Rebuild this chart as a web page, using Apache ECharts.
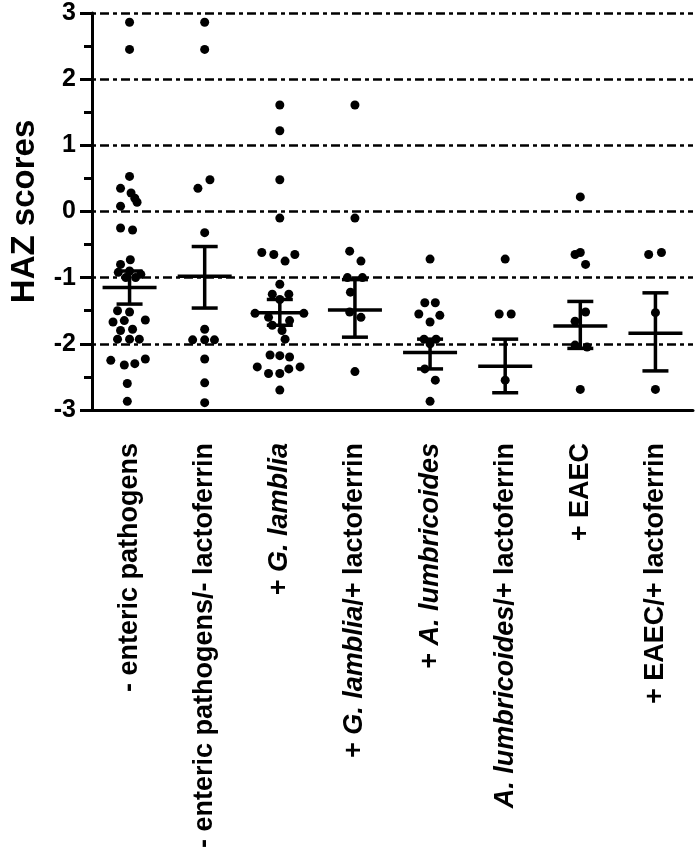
<html>
    <head>
        <meta charset="utf-8">
        <script src="https://cdn.jsdelivr.net/npm/echarts@6/dist/echarts.min.js"></script>
    </head>
    <body>
        <style>
            html, body, #main {
                width: 100%;
                height: 100%;
                margin: 0;
                background: #fff;
            }
        </style>
        <div id='main'></div>
        <script>
        // group labels ({i|...} = italic part)
        var categories = [
            '- enteric pathogens',
            '- enteric pathogens/- lactoferrin',
            '+ {i|G. lamblia}',
            '+ {i|G. lamblia}/+ lactoferrin',
            '+ {i|A. lumbricoides}',
            '{i|A. lumbricoides}/+ lactoferrin',
            '+ EAEC',
            '+ EAEC/+ lactoferrin'
        ];
        var yTicks = [-3, -2, -1, 0, 1, 2, 3];

        // individual HAZ scores per group: [horizontal spread, value]
        var g0 = [[0,2.86],[0,2.45],[0,0.53],[-0.12,0.35],[0.02,0.28],[0.07,0.2],[0.1,0.14],[-0.12,0.08],
                  [-0.12,-0.25],[0.04,-0.28],[0.01,-0.73],[-0.12,-0.8],[-0.15,-0.92],[0,-0.9],[0.15,-0.95],
                  [-0.05,-1.0],[0.08,-1.0],[-0.16,-1.5],[0,-1.52],[-0.22,-1.67],[-0.07,-1.65],[0.21,-1.64],
                  [-0.12,-1.8],[0.04,-1.78],[-0.16,-1.93],[0,-1.93],[0.13,-1.93],[-0.25,-2.25],[-0.07,-2.32],
                  [0.07,-2.3],[0.21,-2.23],[-0.03,-2.6],[-0.03,-2.87]];
        var g1 = [[0,2.86],[0,2.45],[0.07,0.48],[-0.09,0.35],[0,-0.32],[0,-1.78],[-0.16,-1.94],[0,-1.94],
                  [0.13,-1.94],[0,-2.23],[0,-2.59],[0,-2.89]];
        var g2 = [[0,1.61],[0,1.22],[0,0.48],[0,-0.1],[-0.24,-0.62],[-0.08,-0.65],[0.07,-0.75],[0.2,-0.65],
                  [0,-1.1],[-0.1,-1.25],[0.12,-1.25],[0,-1.33],[-0.33,-1.54],[0.32,-1.54],[-0.15,-1.6],
                  [0.13,-1.65],[-0.1,-1.72],[0.03,-1.8],[0.07,-1.93],[-0.13,-2.17],[0,-2.18],[0.13,-2.2],
                  [-0.3,-2.35],[-0.15,-2.45],[0,-2.45],[0.12,-2.38],[0.27,-2.35],[0,-2.7]];
        var g3 = [[0,1.61],[0,-0.1],[-0.07,-0.6],[0.08,-0.75],[-0.1,-1.0],[0.1,-1.0],[-0.06,-1.22],
                  [-0.07,-1.52],[0.08,-1.6],[0,-2.42]];
        var g4 = [[0,-0.72],[-0.07,-1.38],[0.07,-1.38],[-0.15,-1.55],[0.13,-1.57],[0,-1.67],[-0.08,-1.93],
                  [0.08,-1.93],[0,-2.0],[-0.07,-2.38],[0.07,-2.55],[0,-2.87]];
        var g5 = [[0,-0.72],[-0.08,-1.55],[0.08,-1.55],[0,-2.55]];
        var g6 = [[0,0.22],[0,-0.62],[-0.07,-0.65],[0.07,-0.8],[0.07,-1.52],[-0.07,-1.66],[-0.07,-2.02],
                  [0.09,-2.05],[0,-2.69]];
        var g7 = [[0.08,-0.62],[-0.09,-0.65],[0,-1.53],[0,-2.69]];
        var groups = [g0, g1, g2, g3, g4, g5, g6, g7];

        // mean and error bar ends
        var means = [-1.15, -0.98, -1.53, -1.49, -2.13, -2.34, -1.73, -1.84];
        var lows  = [-1.40, -1.46, -1.72, -1.90, -2.38, -2.74, -2.07, -2.41];
        var highs = [-0.90, -0.53, -1.33, -1.03, -1.93, -1.93, -1.36, -1.23];

        var points = [];
        groups.forEach(function (g, i) {
            g.forEach(function (p) { points.push([i + p[0], p[1]]); });
        });
        var bars = means.map(function (m, i) { return [i, m, lows[i], highs[i]]; });

        var font = "'Liberation Sans', Arial, sans-serif";
        var chart = echarts.init(document.getElementById('main'));
        var option = {
            animation: false,
            grid: { left: 90, right: 3, top: 13, bottom: 438, containLabel: false },
            xAxis: [{
                type: 'category',
                data: categories,
                axisLine: { onZero: false, lineStyle: { color: '#000', width: 3 } },
                axisTick: { alignWithLabel: true, length: 10, lineStyle: { color: '#000', width: 3 } },
                splitLine: { show: false },
                axisLabel: {
                    rotate: 90, margin: 33, interval: 0,
                    color: '#000', fontSize: 27, fontWeight: 'bold', fontFamily: font,
                    rich: { i: { fontStyle: 'italic', fontWeight: 'bold', fontSize: 27, fontFamily: font, color: '#000' } }
                }
            }, {
                type: 'value', min: -0.5, max: 7.5, show: false,
                splitLine: { show: false }
            }],
            yAxis: {
                type: 'value', min: -3, max: 3, interval: 1,
                name: 'HAZ scores', nameLocation: 'middle', nameGap: 51,
                nameTextStyle: { fontSize: 33, fontWeight: 'bold', fontFamily: font, color: '#000' },
                axisLine: { show: true, onZero: false, lineStyle: { color: '#000', width: 3 } },
                axisTick: { show: true, length: 12, lineStyle: { color: '#000', width: 3 } },
                minorTick: { show: true, splitNumber: 2, length: 8, lineStyle: { color: '#000', width: 3 } },
                axisLabel: {
                    margin: 16, color: '#000', fontSize: 25, fontWeight: 'bold', fontFamily: font,
                    formatter: function (v) { return yTicks.indexOf(v) >= 0 ? String(v) : ''; }
                },
                splitLine: { show: true, lineStyle: { color: '#000', width: 2.5, type: [4, 4, 9, 4] } }
            },
            series: [{
                type: 'scatter',
                xAxisIndex: 1,
                symbol: 'circle',
                symbolSize: 9,
                itemStyle: { color: '#000', opacity: 1 },
                data: points,
                z: 3
            }, {
                type: 'custom',
                xAxisIndex: 1,
                data: bars,
                z: 4,
                renderItem: function (params, api) {
                    var mid = api.coord([api.value(0), api.value(1)]);
                    var lo = api.coord([api.value(0), api.value(2)]);
                    var hi = api.coord([api.value(0), api.value(3)]);
                    var st = { stroke: '#000', lineWidth: 3.5 };
                    return {
                        type: 'group',
                        children: [
                            { type: 'line', shape: { x1: mid[0], y1: lo[1], x2: mid[0], y2: hi[1] }, style: st },
                            { type: 'line', shape: { x1: mid[0] - 27, y1: mid[1], x2: mid[0] + 27, y2: mid[1] }, style: st },
                            { type: 'line', shape: { x1: mid[0] - 13, y1: lo[1], x2: mid[0] + 13, y2: lo[1] }, style: st },
                            { type: 'line', shape: { x1: mid[0] - 13, y1: hi[1], x2: mid[0] + 13, y2: hi[1] }, style: st }
                        ]
                    };
                }
            }]
        };
        chart.setOption(option);
        window.onresize = chart.resize;
        </script>
    </body>
</html>
